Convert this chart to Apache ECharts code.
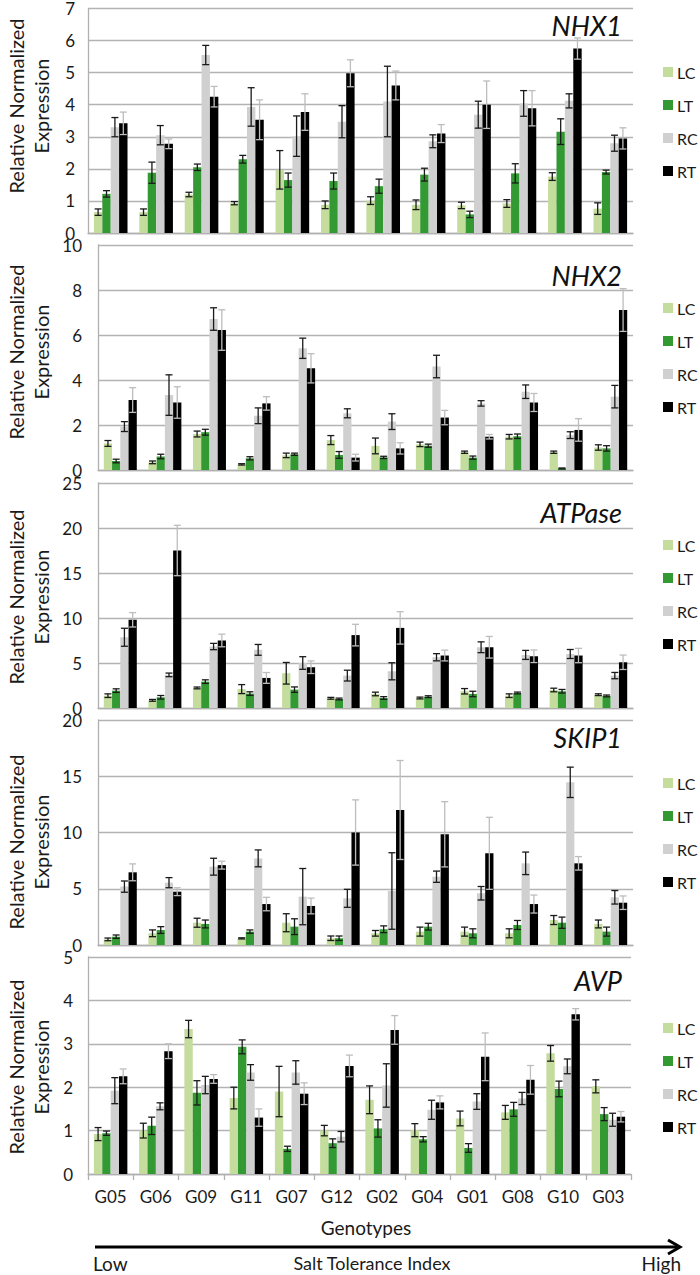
<!DOCTYPE html>
<html>
<head>
<meta charset="utf-8">
<script src="https://cdn.jsdelivr.net/npm/echarts@6/dist/echarts.min.js"></script>
<style>
html,body{margin:0;padding:0;background:#fff;}
#chart{width:700px;height:1275px;}
</style>
</head>
<body>
<div id="chart"></div>
<script>
// ---------- DATA ----------
const genotypes = ['G05','G06','G09','G11','G07','G12','G02','G04','G01','G08','G10','G03'];
const treatments = ['LC','LT','RC','RT'];
const geneNames = ['NHX1','NHX2','ATPase','SKIP1','AVP'];
const yMaxes = [7, 10, 25, 20, 5];
const yIntervals = [1, 2, 5, 5, 1];

// NHX1
const nhx1LC    = [0.65,0.65,1.20,0.93,1.97,0.88,1.01,0.88,0.86,0.92,1.76,0.76];
const nhx1LCerr = [0.10,0.10,0.07,0.05,0.60,0.12,0.12,0.15,0.10,0.12,0.12,0.18];
const nhx1LT    = [1.22,1.88,2.05,2.30,1.65,1.62,1.46,1.82,0.58,1.86,3.16,1.90];
const nhx1LTerr = [0.10,0.33,0.10,0.12,0.22,0.25,0.22,0.20,0.10,0.30,0.40,0.06];
const nhx1RC    = [3.30,3.05,5.55,3.93,3.02,3.47,4.10,2.86,3.69,4.04,4.12,2.80];
const nhx1RCerr = [0.30,0.30,0.30,0.60,0.63,0.50,1.10,0.20,0.42,0.40,0.22,0.25];
const nhx1RT    = [3.42,2.78,4.25,3.53,3.77,4.98,4.60,3.10,4.00,3.89,5.75,2.95];
const nhx1RTerr = [0.35,0.15,0.32,0.62,0.57,0.42,0.45,0.28,0.74,0.55,0.33,0.33];

// NHX2
const nhx2LC    = [1.18,0.34,1.60,0.25,0.65,1.33,1.07,1.14,0.79,1.48,0.79,1.00];
const nhx2LCerr = [0.13,0.06,0.13,0.03,0.10,0.20,0.35,0.10,0.05,0.10,0.05,0.12];
const nhx2LT    = [0.40,0.60,1.68,0.52,0.70,0.67,0.56,1.08,0.55,1.50,0.07,0.96];
const nhx2LTerr = [0.08,0.10,0.13,0.07,0.05,0.15,0.05,0.07,0.07,0.10,0.02,0.12];
const nhx2RC    = [1.93,3.33,6.71,2.41,5.41,2.52,2.15,4.60,2.96,3.48,1.55,3.26];
const nhx2RCerr = [0.22,0.90,0.50,0.35,0.45,0.20,0.35,0.50,0.12,0.30,0.15,0.50];
const nhx2RT    = [3.11,3.00,6.22,2.96,4.52,0.55,0.96,2.33,1.48,3.00,1.78,7.11];
const nhx2RTerr = [0.55,0.70,0.90,0.30,0.65,0.15,0.25,0.32,0.10,0.40,0.50,0.95];

// ATPase
const atpLC    = [1.37,0.85,2.23,2.10,3.86,1.08,1.56,1.11,1.86,1.37,2.00,1.48];
const atpLCerr = [0.20,0.10,0.10,0.50,1.20,0.10,0.20,0.10,0.30,0.20,0.20,0.10];
const atpLT    = [1.93,1.19,2.93,1.60,2.04,1.00,1.11,1.26,1.56,1.67,1.86,1.34];
const atpLTerr = [0.20,0.20,0.20,0.20,0.30,0.10,0.15,0.10,0.30,0.10,0.20,0.10];
const atpRC    = [7.86,3.68,6.83,6.46,5.00,3.60,4.08,5.64,6.75,5.90,6.00,3.60];
const atpRCerr = [1.00,0.20,0.35,0.60,0.70,0.60,0.95,0.40,0.60,0.50,0.50,0.35];
const atpRT    = [9.80,17.50,7.50,3.34,4.53,8.10,8.90,5.83,6.75,5.75,5.83,5.08];
const atpRTerr = [0.80,2.80,0.70,0.60,0.70,1.20,1.80,0.60,1.20,0.70,0.80,0.80];

// SKIP1
const skipLC    = [0.50,1.04,1.98,0.59,1.98,0.60,1.04,1.19,1.19,1.04,2.22,1.87];
const skipLCerr = [0.12,0.30,0.40,0.05,0.80,0.20,0.25,0.40,0.40,0.40,0.40,0.35];
const skipLT    = [0.74,1.33,1.87,1.19,1.63,0.60,1.40,1.63,1.04,1.78,1.98,1.19];
const skipLTerr = [0.15,0.30,0.35,0.15,0.70,0.20,0.30,0.30,0.40,0.40,0.50,0.40];
const skipRC    = [5.19,5.54,6.96,7.70,4.30,4.15,4.80,6.07,4.60,7.26,14.46,4.24];
const skipRCerr = [0.50,0.45,0.75,0.75,2.50,0.80,3.40,0.50,0.60,1.00,1.35,0.60];
const skipRT    = [6.46,4.74,7.10,3.64,3.47,10.00,12.00,9.84,8.15,3.64,7.26,3.76];
const skipRTerr = [0.75,0.35,0.35,0.60,0.70,2.90,4.40,2.90,3.20,0.80,0.60,0.60];

// AVP
const avpLC    = [0.92,1.00,3.34,1.75,1.90,1.00,1.71,1.01,1.28,1.42,2.78,2.02];
const avpLCerr = [0.15,0.17,0.20,0.25,0.58,0.12,0.32,0.15,0.17,0.16,0.18,0.15];
const avpLT    = [0.94,1.11,1.87,2.93,0.58,0.71,1.05,0.80,0.60,1.49,1.96,1.38];
const avpLTerr = [0.05,0.20,0.28,0.16,0.06,0.10,0.20,0.06,0.10,0.16,0.18,0.15];
const avpRC    = [1.92,1.56,2.05,2.34,2.34,0.86,2.04,1.48,1.67,1.74,2.48,1.25];
const avpRCerr = [0.30,0.08,0.20,0.18,0.27,0.12,0.50,0.22,0.18,0.14,0.17,0.15];
const avpRT    = [2.25,2.83,2.19,1.30,1.85,2.49,3.32,1.65,2.70,2.17,3.68,1.32];
const avpRTerr = [0.17,0.17,0.10,0.20,0.25,0.25,0.33,0.15,0.55,0.33,0.13,0.12];

const panelValues = [
  [nhx1LC, nhx1LT, nhx1RC, nhx1RT],
  [nhx2LC, nhx2LT, nhx2RC, nhx2RT],
  [atpLC, atpLT, atpRC, atpRT],
  [skipLC, skipLT, skipRC, skipRT],
  [avpLC, avpLT, avpRC, avpRT]
];
const panelErrors = [
  [nhx1LCerr, nhx1LTerr, nhx1RCerr, nhx1RTerr],
  [nhx2LCerr, nhx2LTerr, nhx2RCerr, nhx2RTerr],
  [atpLCerr, atpLTerr, atpRCerr, atpRTerr],
  [skipLCerr, skipLTerr, skipRCerr, skipRTerr],
  [avpLCerr, avpLTerr, avpRCerr, avpRTerr]
];

// ---------- STYLE / LAYOUT ----------
const FONT = 'Lato';
const barColors = ['#c4dc9c', '#339933', '#d0d0d0', '#000000'];
const errColors = ['#1a1a1a', '#1a1a1a', '#1a1a1a', '#bdbdbd'];
const gridLayout = [
  {left: 88, top: 8,   width: 545, height: 225},
  {left: 98, top: 245, width: 535, height: 225},
  {left: 98, top: 483, width: 535, height: 225},
  {left: 98, top: 720, width: 535, height: 225},
  {left: 88, top: 957, width: 543, height: 217}
];
const labelMargins = [13, 16, 16, 16, 15];
const titleCenters = [25, 275, 512, 737, 980];
const legendTops = [62, 298, 535, 773, 1018];
const yNameCenters = [106, 352, 597, 842, 1067];
const BAR_FRAC = 0.185;

function errRender(k, color) {
  return function (params, api) {
    const xi = api.value(0), v = api.value(1), e = api.value(2);
    const band = api.size([1, 0])[0];
    const bw = band * BAR_FRAC;
    const cx = api.coord([xi, v])[0] + (k - 1.5) * bw;
    const yHi = api.coord([xi, v + e])[1];
    const yLo = api.coord([xi, Math.max(0, v - e)])[1];
    const h = 3.5;
    const st = {stroke: color, lineWidth: 1.3};
    return {
      type: 'group',
      children: [
        {type: 'line', shape: {x1: cx, y1: yHi, x2: cx, y2: yLo}, style: st},
        {type: 'line', shape: {x1: cx - h, y1: yHi, x2: cx + h, y2: yHi}, style: st},
        {type: 'line', shape: {x1: cx - h, y1: yLo, x2: cx + h, y2: yLo}, style: st}
      ]
    };
  };
}

const grids = [], xAxes = [], yAxes = [], series = [], titles = [], legends = [], graphics = [];
for (let p = 0; p < 5; p++) {
  grids.push(Object.assign({containLabel: false}, gridLayout[p]));
  const last = p === 4;
  xAxes.push({
    type: 'category', gridIndex: p, data: genotypes,
    axisLine: {show: true, lineStyle: {color: '#b0b0b0', width: 1.3}},
    axisTick: {show: last, length: 6, interval: 0, lineStyle: {color: '#b0b0b0', width: 1.3}},
    axisLabel: {show: last, interval: 0, margin: 14, fontSize: 17, fontFamily: FONT, color: '#1a1a1a'},
    splitLine: {show: false}
  });
  yAxes.push({
    type: 'value', gridIndex: p, min: 0, max: yMaxes[p], interval: yIntervals[p],
    axisLine: {show: true, lineStyle: {color: '#b0b0b0', width: 1.3}},
    axisTick: {show: false},
    axisLabel: {margin: labelMargins[p], fontSize: 17, lineHeight: 15, fontFamily: FONT, color: '#1a1a1a'},
    splitLine: {show: true, lineStyle: {color: '#b3b3b3', width: 1.3}}
  });
  for (let k = 0; k < 4; k++) {
    series.push({
      type: 'bar', name: treatments[k], xAxisIndex: p, yAxisIndex: p,
      data: panelValues[p][k],
      barWidth: (BAR_FRAC * 100) + '%', barGap: '0%',
      itemStyle: {color: barColors[k]},
      animation: false, silent: true, z: 2
    });
  }
  for (let k = 0; k < 4; k++) {
    series.push({
      type: 'custom', name: 'err' + treatments[k], xAxisIndex: p, yAxisIndex: p,
      data: genotypes.map((g, i) => [i, panelValues[p][k][i], panelErrors[p][k][i]]),
      renderItem: errRender(k, errColors[k]),
      encode: {x: 0, y: 1},
      animation: false, silent: true, z: 5, clip: false
    });
  }
  titles.push({
    text: geneNames[p], right: 78, top: titleCenters[p] - 15, padding: 0,
    textStyle: {fontSize: 27, fontStyle: 'italic', fontWeight: 'normal', fontFamily: FONT, color: '#111', lineHeight: 30}
  });
  legends.push({
    data: treatments, orient: 'vertical', left: 663, top: legendTops[p],
    icon: 'rect', itemWidth: 10, itemHeight: 10, itemGap: 13, padding: 0,
    selectedMode: false,
    textStyle: {fontSize: 16, fontFamily: FONT, color: '#1a1a1a', lineHeight: 20, padding: [0, 0, 0, -1]}
  });
  graphics.push({
    type: 'text', x: 16, y: yNameCenters[p], rotation: Math.PI / 2,
    style: {text: 'Relative Normalized', fontSize: 20, fontFamily: FONT, fill: '#1a1a1a', align: 'center', verticalAlign: 'middle'}
  });
  graphics.push({
    type: 'text', x: 41, y: yNameCenters[p], rotation: Math.PI / 2,
    style: {text: 'Expression', fontSize: 20, fontFamily: FONT, fill: '#1a1a1a', align: 'center', verticalAlign: 'middle'}
  });
}

// bottom annotations
graphics.push({type: 'text', x: 366, y: 1227, style: {text: 'Genotypes', fontSize: 19, fontFamily: FONT, fill: '#1a1a1a', align: 'center', verticalAlign: 'middle'}});
graphics.push({type: 'line', shape: {x1: 95, y1: 1247, x2: 678, y2: 1247}, style: {stroke: '#000', lineWidth: 3}});
graphics.push({type: 'polyline', shape: {points: [[668, 1240], [680, 1247], [668, 1254]]}, style: {stroke: '#000', lineWidth: 3, fill: null}});
graphics.push({type: 'text', x: 93, y: 1263, style: {text: 'Low', fontSize: 19, fontFamily: FONT, fill: '#1a1a1a', align: 'left', verticalAlign: 'middle'}});
graphics.push({type: 'text', x: 372, y: 1263, style: {text: 'Salt Tolerance Index', fontSize: 18, fontFamily: FONT, fill: '#1a1a1a', align: 'center', verticalAlign: 'middle'}});
graphics.push({type: 'text', x: 681, y: 1263, style: {text: 'High', fontSize: 19, fontFamily: FONT, fill: '#1a1a1a', align: 'right', verticalAlign: 'middle'}});

const chart = echarts.init(document.getElementById('chart'), null, {renderer: 'svg', width: 700, height: 1275});
chart.setOption({
  backgroundColor: '#ffffff',
  animation: false,
  title: titles,
  legend: legends,
  grid: grids,
  xAxis: xAxes,
  yAxis: yAxes,
  series: series,
  graphic: {elements: graphics}
});
</script>
</body>
</html>
